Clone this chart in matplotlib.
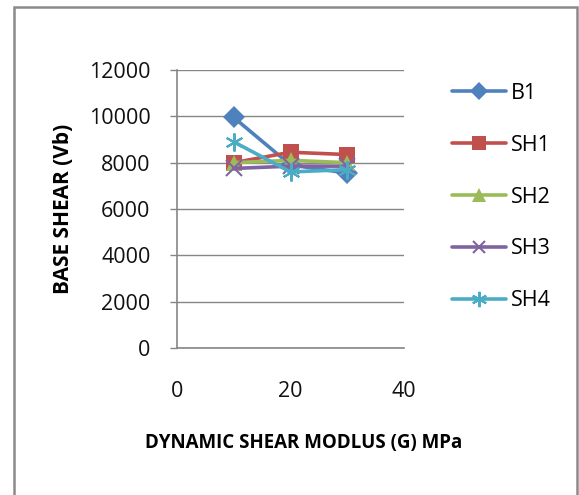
import matplotlib
matplotlib.use("Agg")
import matplotlib.pyplot as plt
from matplotlib.patches import Rectangle

# Data
g_values = [10, 20, 30]
series_names = ["B1", "SH1", "SH2", "SH3", "SH4"]
b1 = [9950, 7900, 7550]
sh1 = [8000, 8450, 8350]
sh2 = [8000, 8100, 8000]
sh3 = [7750, 7850, 7850]
sh4 = [8900, 7600, 7700]
y_ticks = [0, 2000, 4000, 6000, 8000, 10000, 12000]
x_ticks = [0, 20, 40]

plt.rcParams['font.family'] = ['Open Sans', 'DejaVu Sans']

fig = plt.figure(figsize=(5.79, 4.95), dpi=100)
fig.patch.set_facecolor('white')
ax = fig.add_axes([177/579, 1-348/495, (404-177)/579, (348-70)/495])

styles = [
    dict(color='#4F81BD', marker='D', ms=11, mew=0),
    dict(color='#C0504D', marker='s', ms=12, mew=0),
    dict(color='#9BBB59', marker='^', ms=12, mew=0),
    dict(color='#8064A2', marker='x', ms=11, mew=1.5),
    dict(color='#4BACC6', marker=(6, 2, 0), ms=13, mew=1.5),
]
data = [b1, sh1, sh2, sh3, sh4]
for name, vals, st in zip(series_names, data, styles):
    ax.plot(g_values, vals, lw=2.6, label=name, solid_capstyle='round', **st)

ax.set_xlim(0, 40)
ax.set_ylim(0, 12000)
ax.set_xticks(x_ticks)
ax.set_yticks(y_ticks)
ax.grid(axis='y', color='#868686', lw=1.0)
ax.set_axisbelow(True)
for s in ['top', 'right']:
    ax.spines[s].set_visible(False)
ax.spines['left'].set_color('#868686')
ax.spines['bottom'].set_color('#868686')
ax.spines['left'].set_linewidth(1.2)
ax.spines['bottom'].set_linewidth(1.2)
ax.tick_params(axis='y', direction='out', length=5, width=1, color='#868686',
               pad=14, labelsize=15.5, labelcolor='#111111')
ax.tick_params(axis='x', length=0, pad=24, labelsize=15.5, labelcolor='#111111')

ax.set_ylabel('BASE SHEAR (Vb)', fontsize=15, fontweight='bold', labelpad=11)
fig.text(304/579, 1-443/495, 'DYNAMIC SHEAR MODLUS (G) MPa', fontsize=13.5,
         fontweight='bold', ha='center', va='center')

leg = fig.legend(loc='upper left', bbox_to_anchor=(452/579, 1-83/495),
                 frameon=False, fontsize=15.5, handlelength=2.5,
                 handletextpad=0.25, labelspacing=1.43, borderpad=0,
                 borderaxespad=0, markerscale=0.85)

fig.patches.append(Rectangle((14/579, -0.05), (577-14)/579, 1.05-7/495,
                             transform=fig.transFigure, fill=False,
                             edgecolor='#8a8a8a', lw=1.8, zorder=0))

fig.savefig('out.png', dpi=100)
